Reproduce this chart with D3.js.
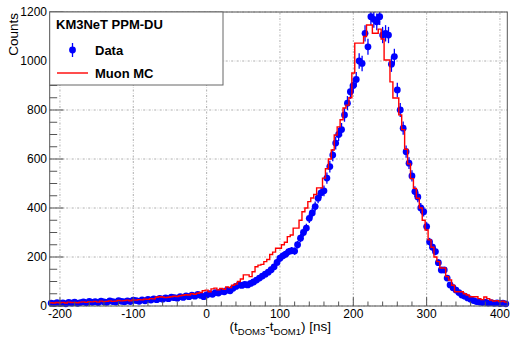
<!DOCTYPE html>
<html>
<head>
<meta charset="utf-8">
<script src="https://cdn.jsdelivr.net/npm/d3@7"></script>
<style>
html,body{margin:0;padding:0;background:#fff;}
svg{display:block;font-family:"Liberation Sans",Arial,Helvetica,sans-serif;}
</style>
</head>
<body>
<svg id="chart" width="510" height="339"></svg>
<script>
// ---- data ----
const binCenters = [
 -212,-208,-204,-200,-196,-192,-188,-184,-180,-176,
 -172,-168,-164,-160,-156,-152,-148,-144,-140,-136,
 -132,-128,-124,-120,-116,-112,-108,-104,-100,-96,
 -92,-88,-84,-80,-76,-72,-68,-64,-60,-56,
 -52,-48,-44,-40,-36,-32,-28,-24,-20,-16,
 -12,-8,-4,0,4,8,12,16,20,24,
 28,32,36,40,44,48,52,56,60,64,
 68,72,76,80,84,88,92,96,100,104,
 108,112,116,120,124,128,132,136,140,144,
 148,152,156,160,164,168,172,176,180,184,
 188,192,196,200,204,208,212,216,220,224,
 228,232,236,240,244,248,252,256,260,264,
 268,272,276,280,284,288,292,296,300,304,
 308,312,316,320,324,328,332,336,340,344,
 348,352,356,360,364,368,372,376,380,384,
 388,392,396,400,404,408];
const binWidth = 4;
const dataCounts = [
 12,10,14,11,13,9,15,12,16,11,
 14,17,13,19,15,18,14,20,17,15,
 21,18,16,22,19,17,21,18,24,22,
 19,25,21,27,24,29,26,31,28,33,
 30,36,34,32,38,35,41,38,44,40,
 47,43,38,45,50,48,55,53,60,58,
 65,62,72,80,86,84,88,86,92,98,
 106,114,122,130,138,148,160,178,195,205,
 212,222,226,224,250,277,300,318,358,380,
 406,440,462,470,522,569,616,665,700,720,
 780,828,875,900,925,1000,990,1113,1058,1181,
 1170,1160,1181,1106,1113,1106,987,1018,882,800,
 726,630,583,531,467,445,400,385,324,262,
 240,222,177,147,147,114,86,75,65,55,
 45,40,33,28,22,18,16,14,16,12,
 14,11,13,10,12,9];
const mcCounts = [
 13,12,14,13,15,12,16,14,15,13,
 16,17,15,18,17,19,16,20,18,19,
 21,19,20,23,21,22,24,21,25,24,
 26,25,28,27,30,29,36,38,37,34,
 36,38,40,39,42,44,46,45,50,48,
 52,55,62,65,58,70,73,66,72,68,
 78,75,85,90,100,110,127,127,120,140,
 160,167,170,181,190,210,220,236,236,250,
 260,283,290,318,318,350,385,400,426,441,
 455,482,482,522,560,600,637,698,731,760,
 808,820,850,951,1073,1073,1073,1100,1147,1147,
 1113,1113,1130,1090,1004,1004,915,849,849,780,
 720,640,580,520,480,440,400,350,310,270,
 240,200,181,155,155,120,106,85,58,58,
 58,50,45,38,38,38,30,26,37,30,
 24,20,22,18,20,16];
const xTicks = [-200,-100,0,100,200,300,400];
const yTicks = [0,200,400,600,800,1000,1200];
const legendTitle = "KM3NeT PPM-DU";
const seriesNames = ["Data","Muon MC"];

// ---- layout ----
const svg = d3.select("#chart");
const x = d3.scaleLinear().domain([-214, 410]).range([49.7, 507.3]);
const y = d3.scaleLinear().domain([0, 1200]).range([306, 12]);
const X0 = x.range()[0], X1 = x.range()[1], Y0 = y.range()[0], Y1 = y.range()[1];

// grid
const grid = svg.append("g").attr("stroke","#9a9a9a").attr("stroke-width",0.8).attr("stroke-dasharray","2,1.5,0.5,1.5");
grid.selectAll("line.vx").data(xTicks).enter().append("line")
  .attr("x1",d=>x(d)).attr("x2",d=>x(d)).attr("y1",Y0).attr("y2",Y1);
grid.selectAll("line.hy").data(yTicks).enter().append("line")
  .attr("y1",d=>y(d)).attr("y2",d=>y(d)).attr("x1",X0).attr("x2",X1);

// data points with error bars
const pts = binCenters.map((t,i)=>({t, c:dataCounts[i], e:Math.sqrt(dataCounts[i])}));
const dg = svg.append("g");
dg.selectAll("line.err").data(pts).enter().append("line")
  .attr("x1",d=>x(d.t)).attr("x2",d=>x(d.t))
  .attr("y1",d=>y(d.c-d.e)).attr("y2",d=>y(Math.min(d.c+d.e,1200)))
  .attr("stroke","#0000ff").attr("stroke-width",1.3);
dg.selectAll("circle").data(pts).enter().append("circle")
  .attr("cx",d=>x(d.t)).attr("cy",d=>y(d.c)).attr("r",3.4)
  .attr("fill","#0000ff");

// MC histogram
const stepPts = [];
binCenters.forEach((t,i)=>{
  stepPts.push([t-binWidth/2, mcCounts[i]]);
  stepPts.push([t+binWidth/2, mcCounts[i]]);
});
const line = d3.line().x(d=>x(d[0])).y(d=>y(d[1]));
svg.append("path").datum(stepPts).attr("d",line)
  .attr("fill","none").attr("stroke","#ff0000").attr("stroke-width",1.4);

// frame
svg.append("rect").attr("x",X0).attr("y",Y1).attr("width",X1-X0).attr("height",Y0-Y1)
  .attr("fill","none").attr("stroke","#555").attr("stroke-width",1);

// x axis ticks (inside)
const xMinor = d3.range(-200, 411, 20);
svg.append("g").selectAll("line").data(xMinor).enter().append("line")
  .attr("x1",d=>x(d)).attr("x2",d=>x(d)).attr("y1",Y0)
  .attr("y2",d=>Y0-(d%100===0?9:4.5)).attr("stroke","#555").attr("stroke-width",1);
// y axis ticks (inside)
const yMinor = d3.range(0, 1201, 50);
svg.append("g").selectAll("line").data(yMinor).enter().append("line")
  .attr("y1",d=>y(d)).attr("y2",d=>y(d)).attr("x1",X0)
  .attr("x2",d=>X0+(d%200===0?14:7.5)).attr("stroke","#555").attr("stroke-width",1);

// tick labels
svg.append("g").selectAll("text").data(xTicks).enter().append("text")
  .attr("x",d=>x(d)).attr("y",317.5).attr("text-anchor","middle")
  .attr("font-size",12).text(d=>d);
svg.append("g").selectAll("text").data(yTicks).enter().append("text")
  .attr("x",47).attr("y",d=>y(d)+4.3).attr("text-anchor","end")
  .attr("font-size",12).text(d=>d);

// axis titles
svg.append("text").attr("transform","translate(18,13) rotate(-90)")
  .attr("text-anchor","end").attr("font-size",13.5).text("Counts");
const xt = svg.append("text").attr("x",331).attr("y",330.5).attr("text-anchor","end").attr("font-size",13.5);
xt.append("tspan").text("(t");
xt.append("tspan").attr("font-size",9.5).attr("dy",4).text("DOM3");
xt.append("tspan").attr("dy",-4).text("-t");
xt.append("tspan").attr("font-size",9.5).attr("dy",4).text("DOM1");
xt.append("tspan").attr("dy",-4).text(") [ns]");

// legend
const lg = svg.append("g");
lg.append("rect").attr("x",X0).attr("y",Y1).attr("width",223-X0).attr("height",85-Y1)
  .attr("fill","#fff").attr("stroke","#666").attr("stroke-width",1);
lg.append("text").attr("x",56).attr("y",29).attr("font-size",13).attr("font-weight","bold").text(legendTitle);
lg.append("line").attr("x1",72.5).attr("x2",72.5).attr("y1",43).attr("y2",57).attr("stroke","#0000ff").attr("stroke-width",1.3);
lg.append("circle").attr("cx",72.5).attr("cy",50).attr("r",3.4).attr("fill","#0000ff");
lg.append("text").attr("x",95).attr("y",55).attr("font-size",13).attr("font-weight","bold").text(seriesNames[0]);
lg.append("line").attr("x1",57).attr("x2",88).attr("y1",73).attr("y2",73).attr("stroke","#ff0000").attr("stroke-width",1.4);
lg.append("text").attr("x",95).attr("y",78).attr("font-size",13).attr("font-weight","bold").text(seriesNames[1]);
</script>
</body>
</html>
